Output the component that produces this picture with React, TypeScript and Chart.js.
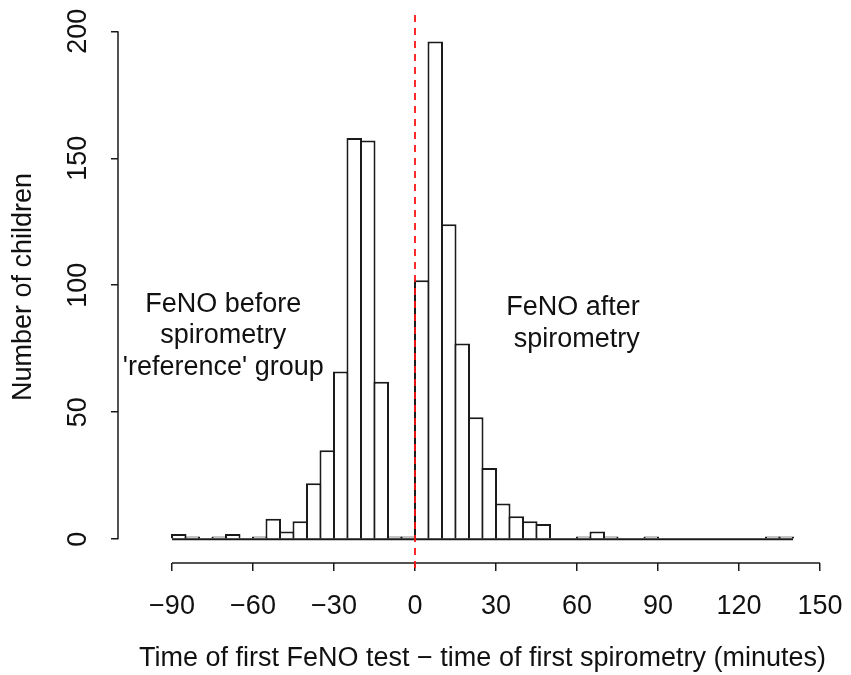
import React, { useEffect, useRef } from 'react';
import { Chart, registerables } from 'chart.js';

Chart.register(...registerables);

// ---- data (5-minute bins) ----
const binStarts = [
  -90, -85, -80, -75, -70, -65, -60, -55, -50, -45,
  -40, -35, -30, -25, -20, -15, -10, -5,
  0, 5, 10, 15, 20, 25, 30, 35, 40, 45,
  50, 55, 60, 65, 70, 75, 80, 85,
  90, 95, 100, 105, 110, 115, 120, 125,
  130, 135,
];
const counts = [
  2, 1, 0, 1, 2, 0, 1, 8, 3, 7,
  22, 35, 66, 158, 157, 62, 1, 1,
  102, 196, 124, 77, 48, 28, 14, 9, 7, 6,
  0, 0, 1, 3, 1, 0, 0, 1,
  0, 0, 0, 0, 0, 0, 0, 0,
  1, 1,
];
const binWidth = 5;
const xTicks = [-90, -60, -30, 0, 30, 60, 90, 120, 150];
const yTicks = [0, 50, 100, 150, 200];
const xTitle = 'Time of first FeNO test \u2212 time of first spirometry (minutes)';
const yTitle = 'Number of children';
const beforeText = ['FeNO before', 'spirometry', "'reference' group"];
const afterText = ['FeNO after', ' spirometry'];
const referenceTime = 0;

const FONT = "'Liberation Sans', Arial, Helvetica, sans-serif";
const FS = 27;
const INK = '#1a1a1a';

const overlay = {
  id: 'rOverlay',
  afterDatasetsDraw(chart: any) {
    const { ctx, chartArea, scales } = chart;
    const xs = scales.x;
    const ys = scales.y;
    ctx.save();
    // axis lines (R style: only between first and last tick)
    ctx.strokeStyle = INK;
    ctx.lineWidth = 1.5;
    ctx.beginPath();
    ctx.moveTo(xs.getPixelForValue(xTicks[0]), chartArea.bottom);
    ctx.lineTo(xs.getPixelForValue(xTicks[xTicks.length - 1]), chartArea.bottom);
    ctx.moveTo(chartArea.left, ys.getPixelForValue(yTicks[0]));
    ctx.lineTo(chartArea.left, ys.getPixelForValue(yTicks[yTicks.length - 1]));
    ctx.stroke();

    // red dashed reference line at t = 0
    const x0 = xs.getPixelForValue(referenceTime);
    ctx.strokeStyle = 'rgba(255,20,20,0.9)';
    ctx.lineWidth = 2;
    ctx.setLineDash([7, 6]);
    ctx.beginPath();
    ctx.moveTo(x0, chartArea.bottom + 5);
    ctx.lineTo(x0, chartArea.top);
    ctx.stroke();
    ctx.setLineDash([]);

    // annotations
    ctx.fillStyle = '#111';
    ctx.font = `${FS}px ${FONT}`;
    ctx.textAlign = 'center';
    ctx.textBaseline = 'middle';
    const lh = 31.5;
    const drawBlock = (lines: string[], xv: number, yv: number) => {
      const cx = xs.getPixelForValue(xv);
      const cy = ys.getPixelForValue(yv);
      const n = lines.length;
      lines.forEach((t, i) => {
        ctx.fillText(t, cx, cy + (i - (n - 1) / 2) * lh);
      });
    };
    drawBlock(beforeText, -71, 80);
    drawBlock(afterText, 58.5, 85);
    ctx.restore();
  },
};

function zeroPad(s: any) {
  s.paddingLeft = 0;
  s.paddingRight = 0;
  s.paddingTop = 0;
  s.paddingBottom = 0;
}

export default function App() {
  const ref = useRef<HTMLCanvasElement | null>(null);
  useEffect(() => {
    if (!ref.current) return;
    const bars = binStarts.map((s, i) => ({ x: s + binWidth / 2, y: counts[i] }));
    const baseline = [
      { x: binStarts[0], y: 0 },
      { x: binStarts[binStarts.length - 1] + binWidth, y: 0 },
    ];
    const chart = new Chart(ref.current, {
      type: 'bar',
      data: {
        datasets: [
          {
            type: 'bar',
            data: bars as any,
            backgroundColor: '#ffffff',
            borderColor: INK,
            borderWidth: 2,
            borderSkipped: 'start',
            categoryPercentage: 1,
            barPercentage: 1.15,
            order: 2,
          } as any,
          {
            type: 'line',
            data: baseline as any,
            borderColor: INK,
            borderWidth: 2,
            pointRadius: 0,
            order: 1,
          } as any,
        ],
      },
      options: {
        animation: false,
        responsive: false,
        devicePixelRatio: 1,
        layout: { padding: { top: 11, right: 4, left: 0, bottom: 0 } },
        plugins: { legend: { display: false }, tooltip: { enabled: false } },
        scales: {
          x: {
            type: 'linear',
            min: -110,
            max: 160,
            offset: false,
            afterBuildTicks: (s: any) => {
              s.ticks = xTicks.map((v) => ({ value: v }));
            },
            afterFit: (s: any) => {
              s.height = 675 - 563;
              zeroPad(s);
            },
            grid: {
              display: true,
              drawOnChartArea: false,
              drawTicks: true,
              tickLength: 8,
              color: INK,
              lineWidth: 1.5,
              offset: false,
            },
            border: { display: false },
            ticks: {
              autoSkip: false,
              maxRotation: 0,
              minRotation: 0,
              padding: 19,
              color: '#111',
              font: { family: FONT, size: FS },
              callback: (v: any) => (v < 0 ? '\u2212' + Math.abs(v) : String(v)),
            },
            title: {
              display: true,
              text: xTitle,
              color: '#111',
              font: { family: FONT, size: FS },
              padding: { top: 0, bottom: 0 },
            },
          } as any,
          y: {
            type: 'linear',
            min: -9.4,
            max: 208,
            afterBuildTicks: (s: any) => {
              s.ticks = yTicks.map((v) => ({ value: v }));
            },
            afterFit: (s: any) => {
              s.width = 118;
              zeroPad(s);
            },
            grid: {
              display: true,
              drawOnChartArea: false,
              drawTicks: true,
              tickLength: 7,
              color: INK,
              lineWidth: 1.5,
            },
            border: { display: false },
            ticks: {
              autoSkip: false,
              minRotation: 90,
              maxRotation: 90,
              crossAlign: 'center',
              padding: 10,
              color: '#111',
              font: { family: FONT, size: FS },
            },
            title: {
              display: true,
              text: yTitle,
              color: '#111',
              font: { family: FONT, size: FS },
              padding: { top: 7, bottom: 0 },
            },
          } as any,
        },
      },
      plugins: [overlay],
    });
    return () => chart.destroy();
  }, []);

  return (
    <div style={{ position: 'fixed', left: 0, top: 0, width: 851, height: 675, background: '#fff' }}>
      <canvas ref={ref} width={851} height={675} style={{ display: 'block' }} />
    </div>
  );
}
